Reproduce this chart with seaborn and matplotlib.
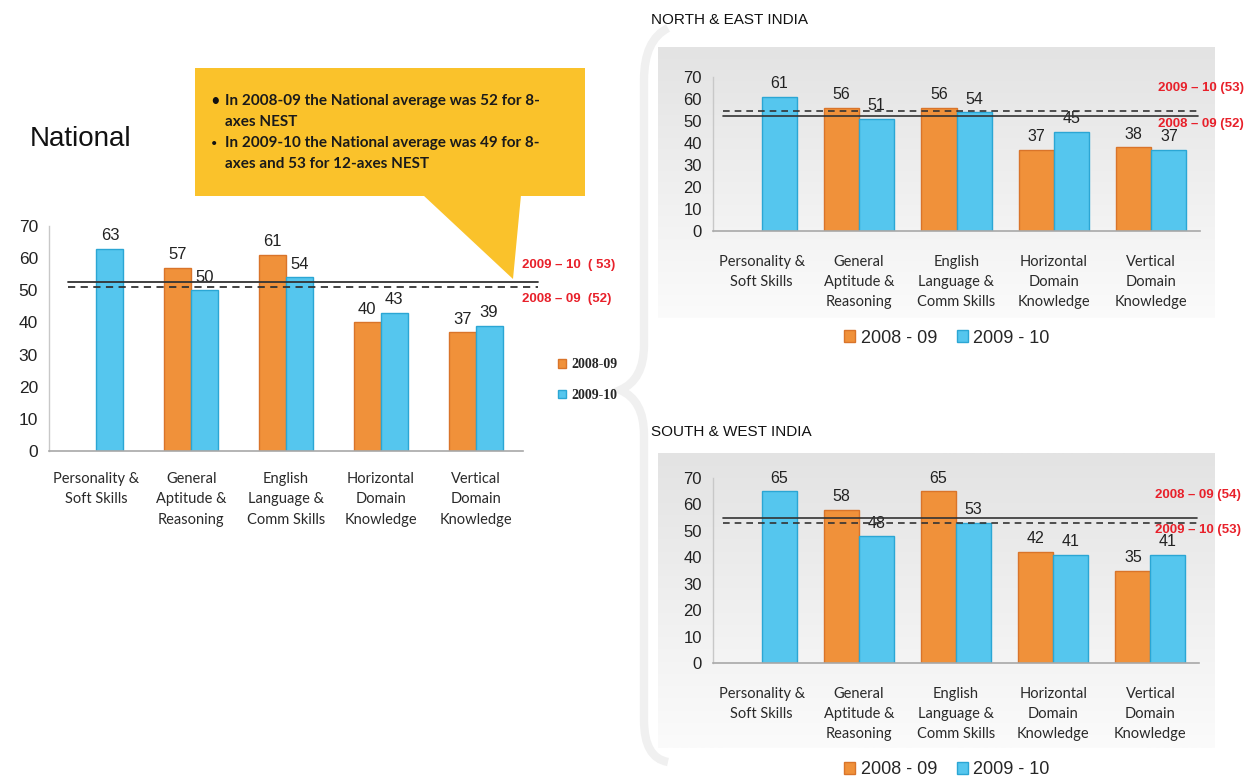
import numpy as np
import pandas as pd
import matplotlib
matplotlib.use("Agg")
import matplotlib.pyplot as plt
import seaborn as sns
from matplotlib.patches import Rectangle, Polygon, Patch, PathPatch
from matplotlib.path import Path
from matplotlib.colors import LinearSegmentedColormap

# ---------------- data ----------------
categories = ["Personality &\nSoft Skills", "General\nAptitude &\nReasoning",
              "English\nLanguage &\nComm Skills", "Horizontal\nDomain\nKnowledge",
              "Vertical\nDomain\nKnowledge"]
years = ["2008-09", "2009-10"]

national_0809 = [None, 57, 61, 40, 37]
national_0910 = [63, 50, 54, 43, 39]
ne_0809 = [None, 56, 56, 37, 38]
ne_0910 = [61, 51, 54, 45, 37]
sw_0809 = [None, 58, 65, 42, 35]
sw_0910 = [65, 48, 53, 41, 41]

# average lines (as drawn): (2008-09, 2009-10)
national_avg = [51.0, 52.6]
ne_avg = [52.3, 54.5]
sw_avg = [54.9, 53.0]

avg_labels_national = ["2008 \u2013 09  (52)", "2009 \u2013 10  ( 53)"]
avg_labels_ne = ["2008 \u2013 09 (52)", "2009 \u2013 10 (53)"]
avg_labels_sw = ["2008 \u2013 09 (54)", "2009 \u2013 10 (53)"]

callout_lines = ["In 2008-09 the National average was 52 for 8-", "axes NEST",
                 "In 2009-10 the National average was 49 for 8-", "axes and 53 for 12-axes NEST"]

ORANGE = "#F0913A"
BLUE = "#55C6EE"
ORANGE_E = "#D9742A"
BLUE_E = "#2BA6D4"
RED = "#E8202A"

W, H = 1258, 779


def px(x0, y0, x1, y1):
    return [x0 / W, 1 - y1 / H, (x1 - x0) / W, (y1 - y0) / H]


def long_df(a, b):
    rows = []
    for c, v in zip(categories, a):
        if v is not None:
            rows.append((c, years[0], v))
    for c, v in zip(categories, b):
        if v is not None:
            rows.append((c, years[1], v))
    return pd.DataFrame(rows, columns=["cat", "year", "value"])


sns.set_theme(style="white")
plt.rcParams["font.family"] = ["Liberation Sans", "DejaVu Sans"]

fig = plt.figure(figsize=(W / 100, H / 100), dpi=100)
fig.patch.set_facecolor("white")

# background overlay for the brace and gradient boxes
bg = fig.add_axes([0, 0, 1, 1], zorder=0)
grad = np.linspace(0, 1, 256).reshape(-1, 1)
gcm = LinearSegmentedColormap.from_list("g", ["#e3e3e3", "#fbfbfb"])
for (x0, y0, x1, y1) in [(658, 47, 1215, 318), (658, 453, 1215, 748)]:
    bg.imshow(grad, cmap=gcm, extent=(x0, x1, y1, y0), aspect="auto", zorder=0)
bg.set_xlim(0, W)
bg.set_ylim(H, 0)
bg.axis("off")
verts = [(668, 28), (644, 40), (644, 80), (644, 345), (644, 380), (620, 390),
         (644, 400), (644, 435), (644, 720), (644, 758), (668, 762)]
codes = [Path.MOVETO, Path.CURVE3, Path.CURVE3, Path.LINETO, Path.CURVE3, Path.CURVE3,
         Path.CURVE3, Path.CURVE3, Path.LINETO, Path.CURVE3, Path.CURVE3]
bg.add_patch(PathPatch(Path(verts, codes), fill=False, lw=6, ec="#f0f0f0", zorder=1))


def draw_panel(rect, a, b, width, tick_fs, val_fs, cat_fs, cat_pad, cat_ls, boundary_ticks):
    ax = fig.add_axes(px(*rect), zorder=2)
    df = long_df(a, b)
    sns.barplot(data=df, x="cat", y="value", hue="year", order=categories,
                hue_order=years, palette=[ORANGE, BLUE], width=width, saturation=1,
                ax=ax, legend=False, errorbar=None)
    for cont, ec in zip(ax.containers, [ORANGE_E, BLUE_E]):
        for bar in cont:
            bar.set_edgecolor(ec)
            bar.set_linewidth(1.0)
        ax.bar_label(cont, fmt="%d", padding=4, fontsize=val_fs, color="#222222")
    ax.set_facecolor("none")
    ax.set_ylim(0, 70)
    ax.set_xlim(-0.5, 4.5)
    ax.set_yticks(range(0, 71, 10))
    ax.set_xlabel("")
    ax.set_ylabel("")
    ax.tick_params(axis="y", labelsize=tick_fs, colors="#222222", length=0, pad=8)
    ax.tick_params(axis="x", length=0, pad=cat_pad)
    ax.set_xticks(range(5))
    ax.set_xticklabels(categories, fontsize=cat_fs, family=["Lato", "DejaVu Sans"],
                       color="#2a2a2a", linespacing=cat_ls)
    for s in ["top", "right"]:
        ax.spines[s].set_visible(False)
    ax.spines["left"].set_color("#c8c8c8")
    ax.spines["bottom"].set_color("#a8a8a8")
    ax.spines["left"].set_linewidth(1.0)
    ax.spines["bottom"].set_linewidth(1.2)
    if boundary_ticks:
        ax.set_xticks(np.arange(-0.5, 5.0, 1.0), minor=True)
        ax.tick_params(axis="x", which="minor", length=6, color="#a8a8a8", width=1)
    return ax


# ---------------- National ----------------
axn = draw_panel((49, 226, 523, 451), national_0809, national_0910, 0.57, 12.5, 12, 10.5, 15, 1.6, True)
axn.plot([-0.3, 4.66], [national_avg[1]] * 2, color="#333333", lw=1.3, clip_on=False, zorder=5)
axn.plot([-0.3, 4.66], [national_avg[0]] * 2, color="#333333", lw=1.3, ls=(0, (4, 3)),
         clip_on=False, zorder=5)

# ---------------- North & East ----------------
axe = draw_panel((713, 77, 1200, 231), ne_0809, ne_0910, 0.72, 12, 11.5, 10.5, 17, 1.55, False)
axe.plot([-0.4, 4.48], [ne_avg[0]] * 2, color="#333333", lw=1.2, clip_on=False, zorder=5)
axe.plot([-0.4, 4.48], [ne_avg[1]] * 2, color="#333333", lw=1.2, ls=(0, (4, 3)),
         clip_on=False, zorder=5)

# ---------------- South & West ----------------
axs = draw_panel((713, 478, 1199, 663), sw_0809, sw_0910, 0.72, 12, 11.5, 10.5, 17, 1.55, False)
axs.plot([-0.4, 4.48], [sw_avg[0]] * 2, color="#333333", lw=1.2, clip_on=False, zorder=5)
axs.plot([-0.4, 4.48], [sw_avg[1]] * 2, color="#333333", lw=1.2, ls=(0, (4, 3)),
         clip_on=False, zorder=5)

# ---------------- overlay ----------------
ov = fig.add_axes([0, 0, 1, 1], zorder=10)
ov.set_xlim(0, W)
ov.set_ylim(H, 0)
ov.axis("off")
ov.patch.set_alpha(0)

YEL = "#FAC22B"
ov.add_patch(Rectangle((195, 68), 390, 128, fc=YEL, ec="none"))
ov.add_patch(Polygon([(423, 195), (521, 195), (513, 279)], closed=True, fc=YEL, ec="none"))
cf = ["Lato", "DejaVu Sans"]
ov.text(210, 101, "\u2022", fontsize=12, va="center", ha="left", color="#111111", family=cf)
ov.text(211, 143, "\u2022", fontsize=8, va="center", ha="left", color="#111111", family=cf)
for ytxt, line in zip([101, 122, 143, 164], callout_lines):
    ov.text(225, ytxt, line, fontsize=11, fontweight="bold", va="center", ha="left",
            color="#1a1a1a", family=cf)

ov.text(30, 139, "National", fontsize=20, va="center", ha="left", color="#111111")
ov.text(651, 20, "NORTH & EAST INDIA", fontsize=11, va="center", ha="left", color="#111111")
ov.text(651, 432, "SOUTH & WEST INDIA", fontsize=11, va="center", ha="left", color="#111111")

ov.text(522, 265, avg_labels_national[1], fontsize=9.5, fontweight="bold", color=RED, va="center")
ov.text(522, 299, avg_labels_national[0], fontsize=9.5, fontweight="bold", color=RED, va="center")
ov.text(1158, 88, avg_labels_ne[1], fontsize=9.5, fontweight="bold", color=RED, va="center")
ov.text(1158, 124, avg_labels_ne[0], fontsize=9.5, fontweight="bold", color=RED, va="center")
ov.text(1155, 495, avg_labels_sw[0], fontsize=9.5, fontweight="bold", color=RED, va="center")
ov.text(1155, 530, avg_labels_sw[1], fontsize=9.5, fontweight="bold", color=RED, va="center")

# legends
h1 = [Patch(fc=ORANGE, ec=ORANGE_E), Patch(fc=BLUE, ec=BLUE_E)]
fig.legend(h1, ["2008-09", "2009-10"], loc="upper left",
           bbox_to_anchor=(545 / W, 1 - 346 / H), frameon=False, handlelength=0.6,
           handleheight=0.6, handletextpad=0.4, labelspacing=1.25,
           prop={"family": ["Liberation Serif", "DejaVu Serif"], "weight": "bold", "size": 10})
for yc in [338, 770]:
    fig.legend(h1, ["2008 - 09", "2009 - 10"], loc="center",
               bbox_to_anchor=(947 / W, 1 - yc / H), ncol=2, frameon=False,
               handlelength=0.6, handleheight=0.6, handletextpad=0.3, columnspacing=1.1,
               prop={"size": 13})

fig.savefig("out.png", dpi=100)
